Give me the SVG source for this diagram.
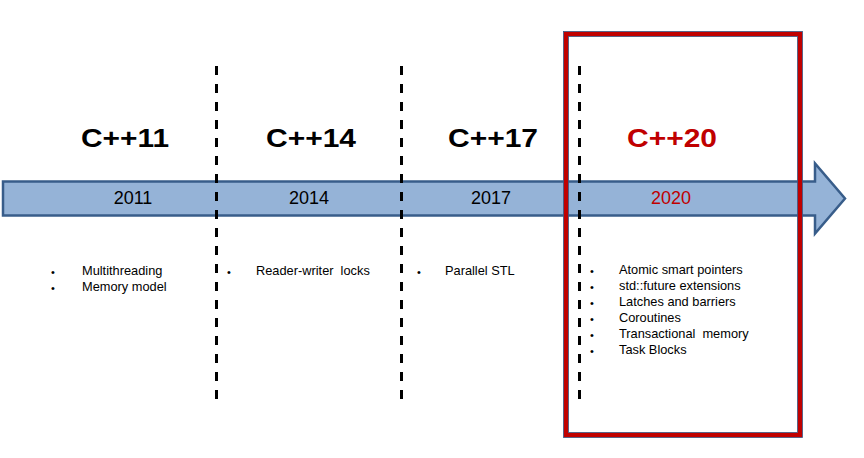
<svg xmlns="http://www.w3.org/2000/svg" width="864" height="458" viewBox="0 0 864 458">
<style>
.ver{font-family:"Liberation Sans",Arial,sans-serif;font-weight:bold;font-size:25px;text-anchor:middle;fill:#000}
.yr{font-family:"Liberation Sans",Arial,sans-serif;font-size:18px;text-anchor:middle;fill:#000}
.it{font-family:"Liberation Sans",Arial,sans-serif;font-size:12.8px;fill:#000}
.bl{font-family:"Liberation Sans",Arial,sans-serif;font-size:11px;fill:#000}
.red{fill:#C00000}
.dash{stroke:#000;stroke-width:3;stroke-dasharray:9 9;fill:none}
</style>
<rect width="864" height="458" fill="#fff"/>
<g id="timeline">
<polygon points="3,181.5 815,181.5 815,163.5 845,198.5 815,233.5 815,215.5 3,215.5" fill="#95B3D7" stroke="#385D8A" stroke-width="2.5" stroke-linejoin="miter"/>
</g>
<g id="connectors">
<line class="dash" x1="216.5" y1="66" x2="216.5" y2="400"/>
<line class="dash" x1="401.5" y1="66" x2="401.5" y2="400"/>
<line class="dash" x1="579.5" y1="66" x2="579.5" y2="400"/>
</g>
<g id="highlight">
<rect x="566" y="34" width="234" height="401" fill="none" stroke="#C00000" stroke-width="5"/>
<rect x="563.5" y="31.5" width="239" height="406" fill="none" stroke="#385D8A" stroke-width="0.8"/>
<rect x="568.5" y="36.5" width="229" height="396" fill="none" stroke="#385D8A" stroke-width="0.8"/>
</g>
<g id="cpp11">
<text class="ver" x="125" y="147" textLength="88" lengthAdjust="spacingAndGlyphs">C++11</text>
<text class="yr" x="133" y="204">2011</text>
<text class="bl" x="51" y="276">•</text><text class="it" x="82" y="275">Multithreading</text>
<text class="bl" x="51" y="292">•</text><text class="it" x="82" y="291">Memory model</text>
</g>
<g id="cpp14">
<text class="ver" x="311" y="147" textLength="90" lengthAdjust="spacingAndGlyphs">C++14</text>
<text class="yr" x="309" y="204">2014</text>
<text class="bl" x="227" y="276">•</text><text class="it" x="256" y="275" xml:space="preserve">Reader-writer  locks</text>
</g>
<g id="cpp17">
<text class="ver" x="493" y="147" textLength="90" lengthAdjust="spacingAndGlyphs">C++17</text>
<text class="yr" x="491" y="204">2017</text>
<text class="bl" x="417" y="276">•</text><text class="it" x="445" y="275">Parallel STL</text>
</g>
<g id="cpp20">
<text class="ver red" x="672" y="147" textLength="90" lengthAdjust="spacingAndGlyphs">C++20</text>
<text class="yr red" x="671" y="204">2020</text>
<text class="bl" x="590" y="275">•</text><text class="it" x="619" y="274">Atomic smart pointers</text>
<text class="bl" x="590" y="291">•</text><text class="it" x="619" y="290">std::future extensions</text>
<text class="bl" x="590" y="307">•</text><text class="it" x="619" y="306">Latches and barriers</text>
<text class="bl" x="590" y="323">•</text><text class="it" x="619" y="322">Coroutines</text>
<text class="bl" x="590" y="339">•</text><text class="it" x="619" y="338" xml:space="preserve">Transactional  memory</text>
<text class="bl" x="590" y="355">•</text><text class="it" x="619" y="354">Task Blocks</text>
</g>
</svg>
